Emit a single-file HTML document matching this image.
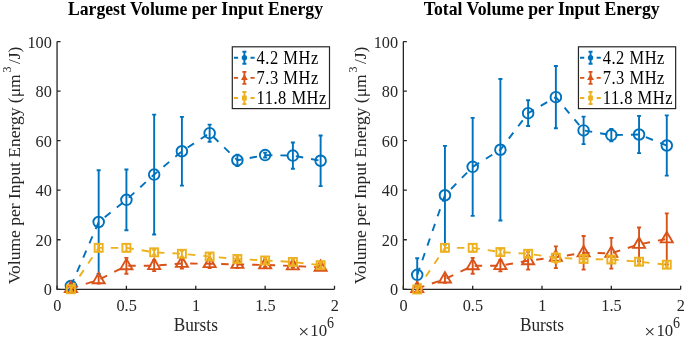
<!DOCTYPE html>
<html><head><meta charset="utf-8"><style>html,body{margin:0;padding:0;background:#fff;}svg{display:block;will-change:transform;}</style></head>
<body><svg width="685" height="342" viewBox="0 0 685 342">
<rect width="685" height="342" fill="#fff"/>
<text transform="translate(195.47,14.9) scale(1,1.05)" text-anchor="middle" font-family="'Liberation Serif', serif" font-weight="bold" font-size="17.7" fill="#000">Largest Volume per Input Energy</text>
<path d="M57.05 41.6V289.3H334.5" stroke="#262626" stroke-width="1.3" fill="none"/>
<path d="M57.05 289.3H60.55M57.05 239.76H60.55M57.05 190.22H60.55M57.05 140.68H60.55M57.05 91.14H60.55M57.05 41.6H60.55M57.05 289.3V285.8M126.41 289.3V285.8M195.77 289.3V285.8M265.14 289.3V285.8M334.5 289.3V285.8" stroke="#262626" stroke-width="1.3" fill="none"/>
<polyline points="70.92,286.02 98.67,222.04 126.41,199.84 154.16,174.55 181.9,151.24 209.65,133.13 237.39,160.29 265.14,155.08 292.88,155.58 320.63,160.78" fill="none" stroke="#0072BD" stroke-width="1.9" stroke-dasharray="7.5 8"/>
<path d="M70.92 283.54V288.5M68.92 283.54H72.92M68.92 288.5H72.92" stroke="#0072BD" stroke-width="1.9" fill="none"/>
<path d="M98.67 170.21V273.87M96.67 170.21H100.67M96.67 273.87H100.67" stroke="#0072BD" stroke-width="1.9" fill="none"/>
<path d="M126.41 169.46V230.22M124.41 169.46H128.41M124.41 230.22H128.41" stroke="#0072BD" stroke-width="1.9" fill="none"/>
<path d="M154.16 114.66V234.44M152.16 114.66H156.16M152.16 234.44H156.16" stroke="#0072BD" stroke-width="1.9" fill="none"/>
<path d="M181.9 116.89V185.58M179.9 116.89H183.9M179.9 185.58H183.9" stroke="#0072BD" stroke-width="1.9" fill="none"/>
<path d="M209.65 124.58V141.69M207.65 124.58H211.65M207.65 141.69H211.65" stroke="#0072BD" stroke-width="1.9" fill="none"/>
<path d="M237.39 154.58V165.99M235.39 154.58H239.39M235.39 165.99H239.39" stroke="#0072BD" stroke-width="1.9" fill="none"/>
<path d="M265.14 152.6V157.56M263.14 152.6H267.14M263.14 157.56H267.14" stroke="#0072BD" stroke-width="1.9" fill="none"/>
<path d="M292.88 142.43V168.72M290.88 142.43H294.88M290.88 168.72H294.88" stroke="#0072BD" stroke-width="1.9" fill="none"/>
<path d="M320.63 135.49V186.08M318.63 135.49H322.63M318.63 186.08H322.63" stroke="#0072BD" stroke-width="1.9" fill="none"/>
<circle cx="70.92" cy="286.02" r="5.3" fill="none" stroke="#0072BD" stroke-width="1.9"/>
<circle cx="98.67" cy="222.04" r="5.3" fill="none" stroke="#0072BD" stroke-width="1.9"/>
<circle cx="126.41" cy="199.84" r="5.3" fill="none" stroke="#0072BD" stroke-width="1.9"/>
<circle cx="154.16" cy="174.55" r="5.3" fill="none" stroke="#0072BD" stroke-width="1.9"/>
<circle cx="181.9" cy="151.24" r="5.3" fill="none" stroke="#0072BD" stroke-width="1.9"/>
<circle cx="209.65" cy="133.13" r="5.3" fill="none" stroke="#0072BD" stroke-width="1.9"/>
<circle cx="237.39" cy="160.29" r="5.3" fill="none" stroke="#0072BD" stroke-width="1.9"/>
<circle cx="265.14" cy="155.08" r="5.3" fill="none" stroke="#0072BD" stroke-width="1.9"/>
<circle cx="292.88" cy="155.58" r="5.3" fill="none" stroke="#0072BD" stroke-width="1.9"/>
<circle cx="320.63" cy="160.78" r="5.3" fill="none" stroke="#0072BD" stroke-width="1.9"/>
<polyline points="70.92,288.5 98.67,279.82 126.41,265.81 154.16,265.69 181.9,263.46 209.65,263.7 237.39,264.45 265.14,264.94 292.88,265.94 320.63,267.42" fill="none" stroke="#D95319" stroke-width="1.9" stroke-dasharray="7.5 8"/>
<path d="M70.92 287.02V289.99M68.92 287.02H72.92M68.92 289.99H72.92" stroke="#D95319" stroke-width="1.9" fill="none"/>
<path d="M98.67 276.1V283.54M96.67 276.1H100.67M96.67 283.54H100.67" stroke="#D95319" stroke-width="1.9" fill="none"/>
<path d="M126.41 257.88V273.75M124.41 257.88H128.41M124.41 273.75H128.41" stroke="#D95319" stroke-width="1.9" fill="none"/>
<path d="M154.16 260.23V271.14M152.16 260.23H156.16M152.16 271.14H156.16" stroke="#D95319" stroke-width="1.9" fill="none"/>
<path d="M181.9 258.25V268.66M179.9 258.25H183.9M179.9 268.66H183.9" stroke="#D95319" stroke-width="1.9" fill="none"/>
<path d="M209.65 259.24V268.17M207.65 259.24H211.65M207.65 268.17H211.65" stroke="#D95319" stroke-width="1.9" fill="none"/>
<path d="M237.39 260.73V268.17M235.39 260.73H239.39M235.39 268.17H239.39" stroke="#D95319" stroke-width="1.9" fill="none"/>
<path d="M265.14 262.96V266.93M263.14 262.96H267.14M263.14 266.93H267.14" stroke="#D95319" stroke-width="1.9" fill="none"/>
<path d="M292.88 263.95V267.92M290.88 263.95H294.88M290.88 267.92H294.88" stroke="#D95319" stroke-width="1.9" fill="none"/>
<path d="M320.63 265.44V269.41M318.63 265.44H322.63M318.63 269.41H322.63" stroke="#D95319" stroke-width="1.9" fill="none"/>
<polygon points="70.92,281.57 64.92,291.97 76.92,291.97" fill="none" stroke="#D95319" stroke-width="1.9" stroke-linejoin="miter"/>
<polygon points="98.67,272.89 92.67,283.29 104.67,283.29" fill="none" stroke="#D95319" stroke-width="1.9" stroke-linejoin="miter"/>
<polygon points="126.41,258.88 120.41,269.28 132.41,269.28" fill="none" stroke="#D95319" stroke-width="1.9" stroke-linejoin="miter"/>
<polygon points="154.16,258.75 148.16,269.15 160.16,269.15" fill="none" stroke="#D95319" stroke-width="1.9" stroke-linejoin="miter"/>
<polygon points="181.9,256.52 175.9,266.92 187.9,266.92" fill="none" stroke="#D95319" stroke-width="1.9" stroke-linejoin="miter"/>
<polygon points="209.65,256.77 203.65,267.17 215.65,267.17" fill="none" stroke="#D95319" stroke-width="1.9" stroke-linejoin="miter"/>
<polygon points="237.39,257.51 231.39,267.91 243.39,267.91" fill="none" stroke="#D95319" stroke-width="1.9" stroke-linejoin="miter"/>
<polygon points="265.14,258.01 259.14,268.41 271.14,268.41" fill="none" stroke="#D95319" stroke-width="1.9" stroke-linejoin="miter"/>
<polygon points="292.88,259 286.88,269.4 298.88,269.4" fill="none" stroke="#D95319" stroke-width="1.9" stroke-linejoin="miter"/>
<polygon points="320.63,260.49 314.63,270.89 326.63,270.89" fill="none" stroke="#D95319" stroke-width="1.9" stroke-linejoin="miter"/>
<polyline points="70.92,289.25 98.67,247.83 126.41,247.83 154.16,252.3 181.9,253.78 209.65,256.51 237.39,258.99 265.14,260.48 292.88,261.97 320.63,265.19" fill="none" stroke="#EDB120" stroke-width="1.9" stroke-dasharray="7.5 8"/>
<path d="M70.92 287.26V291.23M68.92 287.26H72.92M68.92 291.23H72.92" stroke="#EDB120" stroke-width="1.9" fill="none"/>
<path d="M98.67 244.11V251.55M96.67 244.11H100.67M96.67 251.55H100.67" stroke="#EDB120" stroke-width="1.9" fill="none"/>
<path d="M126.41 244.11V251.55M124.41 244.11H128.41M124.41 251.55H128.41" stroke="#EDB120" stroke-width="1.9" fill="none"/>
<path d="M154.16 249.82V254.78M152.16 249.82H156.16M152.16 254.78H156.16" stroke="#EDB120" stroke-width="1.9" fill="none"/>
<path d="M181.9 250.81V256.76M179.9 250.81H183.9M179.9 256.76H183.9" stroke="#EDB120" stroke-width="1.9" fill="none"/>
<path d="M209.65 254.03V258.99M207.65 254.03H211.65M207.65 258.99H211.65" stroke="#EDB120" stroke-width="1.9" fill="none"/>
<path d="M237.39 256.51V261.47M235.39 256.51H239.39M235.39 261.47H239.39" stroke="#EDB120" stroke-width="1.9" fill="none"/>
<path d="M265.14 258V262.96M263.14 258H267.14M263.14 262.96H267.14" stroke="#EDB120" stroke-width="1.9" fill="none"/>
<path d="M292.88 259.49V264.45M290.88 259.49H294.88M290.88 264.45H294.88" stroke="#EDB120" stroke-width="1.9" fill="none"/>
<path d="M320.63 262.71V267.67M318.63 262.71H322.63M318.63 267.67H322.63" stroke="#EDB120" stroke-width="1.9" fill="none"/>
<rect x="66.92" y="285.25" width="8" height="8" fill="none" stroke="#EDB120" stroke-width="1.9"/>
<rect x="94.67" y="243.83" width="8" height="8" fill="none" stroke="#EDB120" stroke-width="1.9"/>
<rect x="122.41" y="243.83" width="8" height="8" fill="none" stroke="#EDB120" stroke-width="1.9"/>
<rect x="150.16" y="248.3" width="8" height="8" fill="none" stroke="#EDB120" stroke-width="1.9"/>
<rect x="177.9" y="249.78" width="8" height="8" fill="none" stroke="#EDB120" stroke-width="1.9"/>
<rect x="205.65" y="252.51" width="8" height="8" fill="none" stroke="#EDB120" stroke-width="1.9"/>
<rect x="233.39" y="254.99" width="8" height="8" fill="none" stroke="#EDB120" stroke-width="1.9"/>
<rect x="261.14" y="256.48" width="8" height="8" fill="none" stroke="#EDB120" stroke-width="1.9"/>
<rect x="288.88" y="257.97" width="8" height="8" fill="none" stroke="#EDB120" stroke-width="1.9"/>
<rect x="316.63" y="261.19" width="8" height="8" fill="none" stroke="#EDB120" stroke-width="1.9"/>
<text transform="translate(51.85,295.2) scale(1,1.08)" text-anchor="end" font-family="'Liberation Serif', serif" font-size="16.3" fill="#262626">0</text>
<text transform="translate(51.85,245.66) scale(1,1.08)" text-anchor="end" font-family="'Liberation Serif', serif" font-size="16.3" fill="#262626">20</text>
<text transform="translate(51.85,196.12) scale(1,1.08)" text-anchor="end" font-family="'Liberation Serif', serif" font-size="16.3" fill="#262626">40</text>
<text transform="translate(51.85,146.58) scale(1,1.08)" text-anchor="end" font-family="'Liberation Serif', serif" font-size="16.3" fill="#262626">60</text>
<text transform="translate(51.85,97.04) scale(1,1.08)" text-anchor="end" font-family="'Liberation Serif', serif" font-size="16.3" fill="#262626">80</text>
<text transform="translate(51.85,47.5) scale(1,1.08)" text-anchor="end" font-family="'Liberation Serif', serif" font-size="16.3" fill="#262626">100</text>
<text transform="translate(57.25,310.7) scale(1,1.08)" text-anchor="middle" font-family="'Liberation Serif', serif" font-size="16.3" fill="#262626">0</text>
<text transform="translate(126.61,310.7) scale(1,1.08)" text-anchor="middle" font-family="'Liberation Serif', serif" font-size="16.3" fill="#262626">0.5</text>
<text transform="translate(195.97,310.7) scale(1,1.08)" text-anchor="middle" font-family="'Liberation Serif', serif" font-size="16.3" fill="#262626">1</text>
<text transform="translate(265.34,310.7) scale(1,1.08)" text-anchor="middle" font-family="'Liberation Serif', serif" font-size="16.3" fill="#262626">1.5</text>
<text transform="translate(334.7,310.7) scale(1,1.08)" text-anchor="middle" font-family="'Liberation Serif', serif" font-size="16.3" fill="#262626">2</text>
<text transform="translate(195.78,330.6) scale(1,1.03)" text-anchor="middle" font-family="'Liberation Serif', serif" font-size="17.3" fill="#262626">Bursts</text>
<text transform="translate(298.2,337.6) scale(1,1.0)" font-family="'Liberation Serif', serif" font-size="19.5" fill="#262626">×</text>
<text transform="translate(310.3,336.2) scale(1,1.05)" font-family="'Liberation Serif', serif" font-size="16.8" fill="#262626">10</text>
<text transform="translate(326.9,328.2) scale(1,1.12)" font-family="'Liberation Serif', serif" font-size="14" fill="#262626">6</text>
<text transform="translate(19.55,165.45) rotate(-90)" text-anchor="middle" font-family="'Liberation Serif', serif" font-size="17.5" fill="#262626">Volume per Input Energy (μm<tspan font-size="12" dx="1.8" dy="-8.5">3</tspan><tspan dx="2.5" dy="8.5">/J)</tspan></text>
<rect x="232.3" y="46.8" width="97.2" height="61.8" fill="#fff" stroke="#262626" stroke-width="1.2"/>
<path d="M233.9 57.8H238.1M250.5 57.8H254.6" stroke="#0072BD" stroke-width="1.9"/>
<path d="M244.4 51.8V63.8M242.4 51.8H246.4M242.4 63.8H246.4" stroke="#0072BD" stroke-width="1.9" fill="none"/>
<circle cx="244.4" cy="57.8" r="2.7" fill="#0072BD"/>
<text transform="translate(256.6,63.9) scale(1,1.08)" font-family="'Liberation Serif', serif" font-size="16.5" letter-spacing="0.5" fill="#000">4.2 MHz</text>
<path d="M233.9 77.9H238.1M250.5 77.9H254.6" stroke="#D95319" stroke-width="1.9"/>
<path d="M244.4 71.9V83.9M242.4 71.9H246.4M242.4 83.9H246.4" stroke="#D95319" stroke-width="1.9" fill="none"/>
<polygon points="244.4,74 241,79.9 247.8,79.9" fill="#D95319"/>
<text transform="translate(256.6,83.9) scale(1,1.08)" font-family="'Liberation Serif', serif" font-size="16.5" letter-spacing="0.5" fill="#000">7.3 MHz</text>
<path d="M233.9 98H238.1M250.5 98H254.6" stroke="#EDB120" stroke-width="1.9"/>
<path d="M244.4 92V104M242.4 92H246.4M242.4 104H246.4" stroke="#EDB120" stroke-width="1.9" fill="none"/>
<rect x="242" y="95.6" width="4.8" height="4.8" fill="#EDB120"/>
<text transform="translate(256.6,103.9) scale(1,1.08)" font-family="'Liberation Serif', serif" font-size="16.5" letter-spacing="0.5" fill="#000">11.8 MHz</text>
<text transform="translate(541.7,14.9) scale(1,1.05)" text-anchor="middle" font-family="'Liberation Serif', serif" font-weight="bold" font-size="17.7" fill="#000">Total Volume per Input Energy</text>
<path d="M403.35 41.6V289.3H680.65" stroke="#262626" stroke-width="1.3" fill="none"/>
<path d="M403.35 289.3H406.85M403.35 239.76H406.85M403.35 190.22H406.85M403.35 140.68H406.85M403.35 91.14H406.85M403.35 41.6H406.85M403.35 289.3V285.8M472.68 289.3V285.8M542 289.3V285.8M611.33 289.3V285.8M680.65 289.3V285.8" stroke="#262626" stroke-width="1.3" fill="none"/>
<polyline points="417.22,274.86 444.94,195.26 472.68,166.86 500.4,149.75 528.13,113.17 555.87,97.17 583.6,130.4 611.33,135.12 639.05,134.5 666.78,145.53" fill="none" stroke="#0072BD" stroke-width="1.9" stroke-dasharray="7.5 8"/>
<path d="M417.22 258.25V291.48M415.22 258.25H419.22M415.22 291.48H419.22" stroke="#0072BD" stroke-width="1.9" fill="none"/>
<path d="M444.94 145.9V244.61M442.94 145.9H446.94M442.94 244.61H446.94" stroke="#0072BD" stroke-width="1.9" fill="none"/>
<path d="M472.68 117.88V215.84M470.68 117.88H474.68M470.68 215.84H474.68" stroke="#0072BD" stroke-width="1.9" fill="none"/>
<path d="M500.4 78.94V220.55M498.4 78.94H502.4M498.4 220.55H502.4" stroke="#0072BD" stroke-width="1.9" fill="none"/>
<path d="M528.13 100.27V126.06M526.13 100.27H530.13M526.13 126.06H530.13" stroke="#0072BD" stroke-width="1.9" fill="none"/>
<path d="M555.87 66.05V128.3M553.87 66.05H557.87M553.87 128.3H557.87" stroke="#0072BD" stroke-width="1.9" fill="none"/>
<path d="M583.6 116.64V144.17M581.6 116.64H585.6M581.6 144.17H585.6" stroke="#0072BD" stroke-width="1.9" fill="none"/>
<path d="M611.33 129.04V141.19M609.33 129.04H613.33M609.33 141.19H613.33" stroke="#0072BD" stroke-width="1.9" fill="none"/>
<path d="M639.05 115.9V153.1M637.05 115.9H641.05M637.05 153.1H641.05" stroke="#0072BD" stroke-width="1.9" fill="none"/>
<path d="M666.78 115.4V175.66M664.78 115.4H668.78M664.78 175.66H668.78" stroke="#0072BD" stroke-width="1.9" fill="none"/>
<circle cx="417.22" cy="274.86" r="5.3" fill="none" stroke="#0072BD" stroke-width="1.9"/>
<circle cx="444.94" cy="195.26" r="5.3" fill="none" stroke="#0072BD" stroke-width="1.9"/>
<circle cx="472.68" cy="166.86" r="5.3" fill="none" stroke="#0072BD" stroke-width="1.9"/>
<circle cx="500.4" cy="149.75" r="5.3" fill="none" stroke="#0072BD" stroke-width="1.9"/>
<circle cx="528.13" cy="113.17" r="5.3" fill="none" stroke="#0072BD" stroke-width="1.9"/>
<circle cx="555.87" cy="97.17" r="5.3" fill="none" stroke="#0072BD" stroke-width="1.9"/>
<circle cx="583.6" cy="130.4" r="5.3" fill="none" stroke="#0072BD" stroke-width="1.9"/>
<circle cx="611.33" cy="135.12" r="5.3" fill="none" stroke="#0072BD" stroke-width="1.9"/>
<circle cx="639.05" cy="134.5" r="5.3" fill="none" stroke="#0072BD" stroke-width="1.9"/>
<circle cx="666.78" cy="145.53" r="5.3" fill="none" stroke="#0072BD" stroke-width="1.9"/>
<polyline points="417.22,288.5 444.94,279.08 472.68,265.81 500.4,265.69 528.13,260.73 555.87,257.26 583.6,252.79 611.33,253.29 639.05,244.36 666.78,238.9" fill="none" stroke="#D95319" stroke-width="1.9" stroke-dasharray="7.5 8"/>
<path d="M417.22 287.02V289.99M415.22 287.02H419.22M415.22 289.99H419.22" stroke="#D95319" stroke-width="1.9" fill="none"/>
<path d="M444.94 275.36V282.8M442.94 275.36H446.94M442.94 282.8H446.94" stroke="#D95319" stroke-width="1.9" fill="none"/>
<path d="M472.68 257.88V273.75M470.68 257.88H474.68M470.68 273.75H474.68" stroke="#D95319" stroke-width="1.9" fill="none"/>
<path d="M500.4 259.98V271.39M498.4 259.98H502.4M498.4 271.39H502.4" stroke="#D95319" stroke-width="1.9" fill="none"/>
<path d="M528.13 251.8V269.66M526.13 251.8H530.13M526.13 269.66H530.13" stroke="#D95319" stroke-width="1.9" fill="none"/>
<path d="M555.87 246.34V268.17M553.87 246.34H557.87M553.87 268.17H557.87" stroke="#D95319" stroke-width="1.9" fill="none"/>
<path d="M583.6 235.93V269.66M581.6 235.93H585.6M581.6 269.66H585.6" stroke="#D95319" stroke-width="1.9" fill="none"/>
<path d="M611.33 237.91V268.66M609.33 237.91H613.33M609.33 268.66H613.33" stroke="#D95319" stroke-width="1.9" fill="none"/>
<path d="M639.05 227.5V261.22M637.05 227.5H641.05M637.05 261.22H641.05" stroke="#D95319" stroke-width="1.9" fill="none"/>
<path d="M666.78 213.36V264.45M664.78 213.36H668.78M664.78 264.45H668.78" stroke="#D95319" stroke-width="1.9" fill="none"/>
<polygon points="417.22,281.57 411.22,291.97 423.22,291.97" fill="none" stroke="#D95319" stroke-width="1.9" stroke-linejoin="miter"/>
<polygon points="444.94,272.15 438.94,282.55 450.94,282.55" fill="none" stroke="#D95319" stroke-width="1.9" stroke-linejoin="miter"/>
<polygon points="472.68,258.88 466.68,269.28 478.68,269.28" fill="none" stroke="#D95319" stroke-width="1.9" stroke-linejoin="miter"/>
<polygon points="500.4,258.75 494.4,269.15 506.4,269.15" fill="none" stroke="#D95319" stroke-width="1.9" stroke-linejoin="miter"/>
<polygon points="528.13,253.79 522.13,264.19 534.13,264.19" fill="none" stroke="#D95319" stroke-width="1.9" stroke-linejoin="miter"/>
<polygon points="555.87,250.32 549.87,260.72 561.87,260.72" fill="none" stroke="#D95319" stroke-width="1.9" stroke-linejoin="miter"/>
<polygon points="583.6,245.86 577.6,256.26 589.6,256.26" fill="none" stroke="#D95319" stroke-width="1.9" stroke-linejoin="miter"/>
<polygon points="611.33,246.35 605.33,256.75 617.33,256.75" fill="none" stroke="#D95319" stroke-width="1.9" stroke-linejoin="miter"/>
<polygon points="639.05,237.43 633.05,247.83 645.05,247.83" fill="none" stroke="#D95319" stroke-width="1.9" stroke-linejoin="miter"/>
<polygon points="666.78,231.97 660.78,242.37 672.78,242.37" fill="none" stroke="#D95319" stroke-width="1.9" stroke-linejoin="miter"/>
<polyline points="417.22,289.5 444.94,247.83 472.68,247.83 500.4,252.05 528.13,253.78 555.87,257.75 583.6,258.99 611.33,259.49 639.05,261.72 666.78,264.7" fill="none" stroke="#EDB120" stroke-width="1.9" stroke-dasharray="7.5 8"/>
<path d="M417.22 287.51V291.48M415.22 287.51H419.22M415.22 291.48H419.22" stroke="#EDB120" stroke-width="1.9" fill="none"/>
<path d="M444.94 244.11V251.55M442.94 244.11H446.94M442.94 251.55H446.94" stroke="#EDB120" stroke-width="1.9" fill="none"/>
<path d="M472.68 244.11V251.55M470.68 244.11H474.68M470.68 251.55H474.68" stroke="#EDB120" stroke-width="1.9" fill="none"/>
<path d="M500.4 249.57V254.53M498.4 249.57H502.4M498.4 254.53H502.4" stroke="#EDB120" stroke-width="1.9" fill="none"/>
<path d="M528.13 250.81V256.76M526.13 250.81H530.13M526.13 256.76H530.13" stroke="#EDB120" stroke-width="1.9" fill="none"/>
<path d="M555.87 252.79V262.71M553.87 252.79H557.87M553.87 262.71H557.87" stroke="#EDB120" stroke-width="1.9" fill="none"/>
<path d="M583.6 256.51V261.47M581.6 256.51H585.6M581.6 261.47H585.6" stroke="#EDB120" stroke-width="1.9" fill="none"/>
<path d="M611.33 257.01V261.97M609.33 257.01H613.33M609.33 261.97H613.33" stroke="#EDB120" stroke-width="1.9" fill="none"/>
<path d="M639.05 259.24V264.2M637.05 259.24H641.05M637.05 264.2H641.05" stroke="#EDB120" stroke-width="1.9" fill="none"/>
<path d="M666.78 262.22V267.18M664.78 262.22H668.78M664.78 267.18H668.78" stroke="#EDB120" stroke-width="1.9" fill="none"/>
<rect x="413.22" y="285.5" width="8" height="8" fill="none" stroke="#EDB120" stroke-width="1.9"/>
<rect x="440.94" y="243.83" width="8" height="8" fill="none" stroke="#EDB120" stroke-width="1.9"/>
<rect x="468.68" y="243.83" width="8" height="8" fill="none" stroke="#EDB120" stroke-width="1.9"/>
<rect x="496.4" y="248.05" width="8" height="8" fill="none" stroke="#EDB120" stroke-width="1.9"/>
<rect x="524.13" y="249.78" width="8" height="8" fill="none" stroke="#EDB120" stroke-width="1.9"/>
<rect x="551.87" y="253.75" width="8" height="8" fill="none" stroke="#EDB120" stroke-width="1.9"/>
<rect x="579.6" y="254.99" width="8" height="8" fill="none" stroke="#EDB120" stroke-width="1.9"/>
<rect x="607.33" y="255.49" width="8" height="8" fill="none" stroke="#EDB120" stroke-width="1.9"/>
<rect x="635.05" y="257.72" width="8" height="8" fill="none" stroke="#EDB120" stroke-width="1.9"/>
<rect x="662.78" y="260.7" width="8" height="8" fill="none" stroke="#EDB120" stroke-width="1.9"/>
<text transform="translate(398.15,295.2) scale(1,1.08)" text-anchor="end" font-family="'Liberation Serif', serif" font-size="16.3" fill="#262626">0</text>
<text transform="translate(398.15,245.66) scale(1,1.08)" text-anchor="end" font-family="'Liberation Serif', serif" font-size="16.3" fill="#262626">20</text>
<text transform="translate(398.15,196.12) scale(1,1.08)" text-anchor="end" font-family="'Liberation Serif', serif" font-size="16.3" fill="#262626">40</text>
<text transform="translate(398.15,146.58) scale(1,1.08)" text-anchor="end" font-family="'Liberation Serif', serif" font-size="16.3" fill="#262626">60</text>
<text transform="translate(398.15,97.04) scale(1,1.08)" text-anchor="end" font-family="'Liberation Serif', serif" font-size="16.3" fill="#262626">80</text>
<text transform="translate(398.15,47.5) scale(1,1.08)" text-anchor="end" font-family="'Liberation Serif', serif" font-size="16.3" fill="#262626">100</text>
<text transform="translate(403.55,310.7) scale(1,1.08)" text-anchor="middle" font-family="'Liberation Serif', serif" font-size="16.3" fill="#262626">0</text>
<text transform="translate(472.88,310.7) scale(1,1.08)" text-anchor="middle" font-family="'Liberation Serif', serif" font-size="16.3" fill="#262626">0.5</text>
<text transform="translate(542.2,310.7) scale(1,1.08)" text-anchor="middle" font-family="'Liberation Serif', serif" font-size="16.3" fill="#262626">1</text>
<text transform="translate(611.53,310.7) scale(1,1.08)" text-anchor="middle" font-family="'Liberation Serif', serif" font-size="16.3" fill="#262626">1.5</text>
<text transform="translate(680.85,310.7) scale(1,1.08)" text-anchor="middle" font-family="'Liberation Serif', serif" font-size="16.3" fill="#262626">2</text>
<text transform="translate(542,330.6) scale(1,1.03)" text-anchor="middle" font-family="'Liberation Serif', serif" font-size="17.3" fill="#262626">Bursts</text>
<text transform="translate(644.35,337.6) scale(1,1.0)" font-family="'Liberation Serif', serif" font-size="19.5" fill="#262626">×</text>
<text transform="translate(656.45,336.2) scale(1,1.05)" font-family="'Liberation Serif', serif" font-size="16.8" fill="#262626">10</text>
<text transform="translate(673.05,328.2) scale(1,1.12)" font-family="'Liberation Serif', serif" font-size="14" fill="#262626">6</text>
<text transform="translate(365.85,165.45) rotate(-90)" text-anchor="middle" font-family="'Liberation Serif', serif" font-size="17.5" fill="#262626">Volume per Input Energy (μm<tspan font-size="12" dx="1.8" dy="-8.5">3</tspan><tspan dx="2.5" dy="8.5">/J)</tspan></text>
<rect x="578.45" y="46.8" width="97.2" height="61.8" fill="#fff" stroke="#262626" stroke-width="1.2"/>
<path d="M580.05 57.8H584.25M596.65 57.8H600.75" stroke="#0072BD" stroke-width="1.9"/>
<path d="M590.55 51.8V63.8M588.55 51.8H592.55M588.55 63.8H592.55" stroke="#0072BD" stroke-width="1.9" fill="none"/>
<circle cx="590.55" cy="57.8" r="2.7" fill="#0072BD"/>
<text transform="translate(602.75,63.9) scale(1,1.08)" font-family="'Liberation Serif', serif" font-size="16.5" letter-spacing="0.5" fill="#000">4.2 MHz</text>
<path d="M580.05 77.9H584.25M596.65 77.9H600.75" stroke="#D95319" stroke-width="1.9"/>
<path d="M590.55 71.9V83.9M588.55 71.9H592.55M588.55 83.9H592.55" stroke="#D95319" stroke-width="1.9" fill="none"/>
<polygon points="590.55,74 587.15,79.9 593.95,79.9" fill="#D95319"/>
<text transform="translate(602.75,83.9) scale(1,1.08)" font-family="'Liberation Serif', serif" font-size="16.5" letter-spacing="0.5" fill="#000">7.3 MHz</text>
<path d="M580.05 98H584.25M596.65 98H600.75" stroke="#EDB120" stroke-width="1.9"/>
<path d="M590.55 92V104M588.55 92H592.55M588.55 104H592.55" stroke="#EDB120" stroke-width="1.9" fill="none"/>
<rect x="588.15" y="95.6" width="4.8" height="4.8" fill="#EDB120"/>
<text transform="translate(602.75,103.9) scale(1,1.08)" font-family="'Liberation Serif', serif" font-size="16.5" letter-spacing="0.5" fill="#000">11.8 MHz</text>
</svg></body></html>
